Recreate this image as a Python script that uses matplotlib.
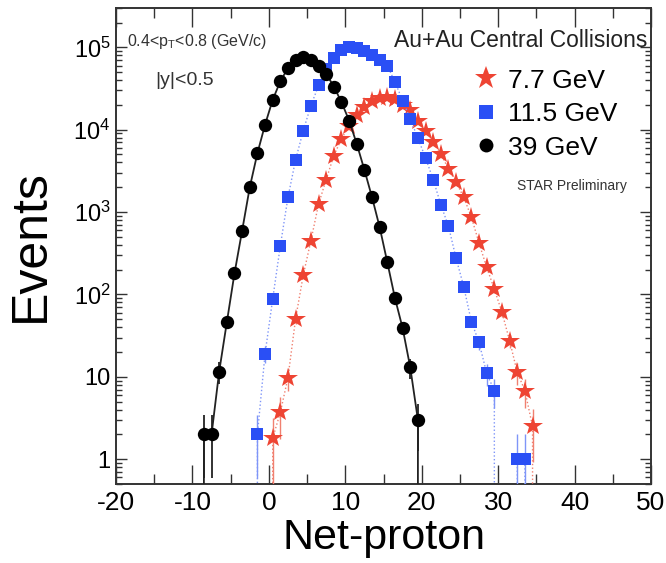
import numpy as np
import matplotlib
matplotlib.use("Agg")
import matplotlib.pyplot as plt
from matplotlib.ticker import FixedLocator, LogLocator, NullFormatter, MultipleLocator
from matplotlib.lines import Line2D

plt.rcParams['font.family'] = ['Liberation Sans', 'DejaVu Sans']
plt.rcParams['mathtext.default'] = 'regular'

# ---------------- data (bin centres and event counts) ----------------
x_39 = [-9.5, -8.5, -7.5, -6.5, -5.5, -4.5, -3.5, -2.5, -1.5, -0.5, 0.5, 1.5, 2.5, 3.5,
        4.5, 5.5, 6.5, 7.5, 8.5, 9.5, 10.5, 11.5, 12.5, 13.5, 14.5, 15.5, 16.5,
        17.5, 18.5, 19.5, 20.5]
y_39 = [0, 2, 2, 11.6, 46, 180, 594, 2000, 5180, 11500, 23000, 38800, 55900, 69200,
        76000, 71100, 60100, 47600, 33400, 21600, 12900, 6720, 3250, 1510, 653, 245, 90,
        39, 13, 3, 0]

x_115 = [-3.5, -2.5, -1.5, -0.5, 0.5, 1.5, 2.5, 3.5, 4.5, 5.5, 6.5, 7.5, 8.5, 9.5,
         10.5, 11.5, 12.5, 13.5, 14.5, 15.5, 16.5, 17.5, 18.5, 19.5, 20.5, 21.5,
         22.5, 23.5, 24.5, 25.5, 26.5, 27.5, 28.5, 29.5, 30.5, 31.5, 32.5, 33.5, 34.5]
y_115 = [0, 0, 2, 19, 88, 390, 1510, 4330, 9750, 19600, 34400, 55000, 75000, 92000,
         100000, 98000, 90000, 80000, 70000, 60100, 37800, 22600, 13500, 7880, 4540, 2480,
         1230, 672, 274, 124, 46.6, 26.2, 11, 6.8, 0, 0, 1, 1, 0]

x_77 = [-0.5, 0.5, 1.5, 2.5, 3.5, 4.5, 5.5, 6.5, 7.5, 8.5, 9.5, 10.5, 11.5, 12.5,
        13.5, 14.5, 15.5, 16.5, 17.5, 18.5, 19.5, 20.5, 21.5, 22.5, 23.5, 24.5,
        25.5, 26.5, 27.5, 28.5, 29.5, 30.5, 31.5, 32.5, 33.5, 34.5, 35.5]
y_77 = [0, 1.8, 3.7, 9.8, 51, 172, 450, 1250, 2480, 4850, 7730, 11200, 15000, 19000,
        22500, 24500, 25000, 23500, 20000, 17100, 12900, 9750, 7050, 5080, 3340, 2300,
        1510, 865, 420, 213, 116, 60.6, 27.4, 11.3, 6.8, 2.5, 0]

labels = ['7.7 GeV', '11.5 GeV', '39 GeV']
ytick_vals = [1, 10, 1e2, 1e3, 1e4, 1e5]
ytick_labels = ['1', '10', r'$10^{2}$', r'$10^{3}$', r'$10^{4}$', r'$10^{5}$']
xtick_vals = [-20, -10, 0, 10, 20, 30, 40, 50]

RED = '#ee4433'
BLUE = '#2a4ff5'
BLACK = '#000000'

fig = plt.figure(figsize=(6.66, 5.63), dpi=100)
ax = fig.add_axes([0.1742, 0.1403, 0.9775 - 0.1742, 0.9858 - 0.1403])
ax.set_yscale('log')


def draw(xs, ys, color, marker, ms, ls, lw, lcolor, z):
    xs = np.asarray(xs, float)
    ys = np.asarray(ys, float)
    ax.plot(xs, ys, ls=ls, lw=lw, color=lcolor, zorder=z)
    m = ys > 0
    err = np.sqrt(ys[m])
    lo = np.minimum(err, ys[m] * 0.999)
    ax.errorbar(xs[m], ys[m], yerr=[lo, err], fmt='none', ecolor=lcolor,
                elinewidth=lw, ls=ls, zorder=z)
    ax.plot(xs[m], ys[m], ls='none', marker=marker, ms=ms, color=color,
            markeredgewidth=0, zorder=z + 1)


draw(x_77, y_77, RED, '*', 15, ':', 1.0, '#f08070', 3)
draw(x_115, y_115, BLUE, 's', 8.2, ':', 1.0, '#7f95f8', 4)
draw(x_39, y_39, BLACK, 'o', 9.6, '-', 1.3, '#222222', 5)

ax.set_xlim(-20, 50)
ax.set_ylim(0.5, 3.0e5)

ax.xaxis.set_major_locator(FixedLocator(xtick_vals))
ax.xaxis.set_minor_locator(MultipleLocator(5))
ax.set_xticklabels([str(v) for v in xtick_vals])
ax.yaxis.set_major_locator(FixedLocator(ytick_vals))
ax.set_yticklabels(ytick_labels)
ax.yaxis.set_minor_locator(LogLocator(base=10, subs=np.arange(2, 10), numticks=20))
ax.yaxis.set_minor_formatter(NullFormatter())

ax.tick_params(axis='both', which='both', direction='in', top=True, right=True,
               color='#333333', width=1.0)
ax.tick_params(axis='x', which='major', length=14, labelsize=19, pad=5)
ax.tick_params(axis='x', which='minor', length=7)
ax.tick_params(axis='y', which='major', length=8, labelsize=17, pad=4)
ax.tick_params(axis='y', which='minor', length=4.5)
for s in ax.spines.values():
    s.set_linewidth(1.4)
    s.set_color('#333333')

ax.set_xlabel('Net-proton', fontsize=31, labelpad=2)
ax.set_ylabel('Events', fontsize=36, labelpad=14)

ax.text(0.02, 0.93, r'0.4<p$_{T}$<0.8 (GeV/c)', transform=ax.transAxes,
        fontsize=11.5, color='#333333', va='center', ha='left')
ax.text(0.074, 0.848, '|y|<0.5', transform=ax.transAxes,
        fontsize=14, color='#333333', va='center', ha='left')
ax.text(0.993, 0.932, 'Au+Au Central Collisions', transform=ax.transAxes,
        fontsize=16.5, color='#222222', va='center', ha='right')
ax.text(0.75, 0.627, 'STAR Preliminary', transform=ax.transAxes,
        fontsize=10, color='#333333', va='center', ha='left')

handles = [Line2D([], [], ls='none', marker='*', ms=17, color=RED, markeredgewidth=0),
           Line2D([], [], ls='none', marker='s', ms=10, color=BLUE, markeredgewidth=0),
           Line2D([], [], ls='none', marker='o', ms=10, color=BLACK, markeredgewidth=0)]
ax.legend(handles, labels, loc='upper left', bbox_to_anchor=(0.652, 0.895),
          frameon=False, fontsize=19, handlelength=0.8, handletextpad=0.45,
          labelspacing=0.36, borderaxespad=0)

fig.savefig('out.png', dpi=100)
